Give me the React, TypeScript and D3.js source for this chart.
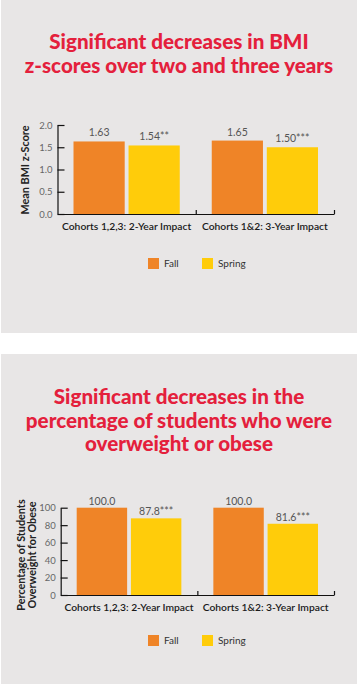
import React, { useEffect, useRef } from 'react'
import * as d3 from 'd3'

const categories = ['Cohorts 1,2,3: 2-Year Impact', 'Cohorts 1&2: 3-Year Impact']
const seriesNames = ['Fall', 'Spring']

const bmiFall = [1.63, 1.65]
const bmiSpring = [1.54, 1.5]
const bmiFallLabels = ['1.63', '1.65']
const bmiSpringLabels = ['1.54**', '1.50***']
const bmiTicks = [0, 0.5, 1.0, 1.5, 2.0]

const pctFall = [100.0, 100.0]
const pctSpring = [87.8, 81.6]
const pctFallLabels = ['100.0', '100.0']
const pctSpringLabels = ['87.8***', '81.6***']
const pctTicks = [0, 20, 40, 60, 80, 100]

const COLORS = { Fall: '#ef8427', Spring: '#ffcc0a' }
const BG = '#e8e6e6'
const RED = '#e4203c'
const FONT = 'Lato, "Open Sans", sans-serif'

interface PanelProps {
  top: number
  height: number
  titleLines: string[]
  titleY: number
  yTitleLines: string[]
  yTitleX: number[]
  yTitleY: number
  axisX: number
  yTop: number
  yBottom: number
  yMax: number
  ticks: number[]
  tickFormat: (d: number) => string
  fall: number[]
  spring: number[]
  fallLabels: string[]
  springLabels: string[]
  labelGap: number
  catY: number
  legendY: number
}

const Panel: React.FC<PanelProps> = (p) => {
  const yAxisRef = useRef<SVGGElement>(null)
  const xAxisRef = useRef<SVGGElement>(null)

  const y = d3.scaleLinear().domain([0, p.yMax]).range([p.yBottom, p.yTop])
  const x0 = d3.scaleBand().domain(categories).range([p.axisX, 334]).padding(0)
  const x1 = d3.scaleBand().domain(seriesNames).range([16, x0.bandwidth() - 16]).paddingInner(0.07)

  useEffect(() => {
    if (!yAxisRef.current || !xAxisRef.current) return
    const ya = d3.select(yAxisRef.current)
    ya.selectAll('*').remove()
    ya.call(d3.axisLeft(y).tickValues(p.ticks).tickFormat(d => p.tickFormat(d as number)).tickSizeInner(-7).tickSizeOuter(0).tickPadding(5))
    ya.select('.domain').attr('stroke', '#111').attr('stroke-width', 1.2)
    ya.selectAll('.tick line').attr('stroke', '#111').attr('stroke-width', 1.2)
    ya.selectAll('.tick text').attr('fill', '#666').style('font-size', '9.5px').style('font-family', FONT)

    const xa = d3.select(xAxisRef.current)
    xa.selectAll('*').remove()
    const edges = d3.axisBottom(d3.scaleLinear().domain([0, 2]).range([p.axisX, 334]))
      .tickValues([1, 2]).tickFormat(() => '').tickSizeInner(-4).tickSizeOuter(0)
    xa.call(edges)
    xa.select('.domain').attr('stroke', '#111').attr('stroke-width', 1.2)
    xa.selectAll('.tick line').attr('stroke', '#111').attr('stroke-width', 1.2)
  })

  const series = [
    { name: 'Fall', values: p.fall, labels: p.fallLabels },
    { name: 'Spring', values: p.spring, labels: p.springLabels }
  ]

  return (
    <g transform={`translate(0,${p.top})`}>
      <rect x={1} y={0} width={356} height={p.height} fill={BG} />
      {p.titleLines.map((t, i) => (
        <text key={i} x={179} y={p.titleY + i * 23.5} textAnchor="middle" fill={RED}
          style={{ fontFamily: FONT, fontWeight: 900, fontSize: '20.6px' }}>{t}</text>
      ))}
      {p.yTitleLines.map((t, i) => (
        <text key={i} transform={`translate(${p.yTitleX[i]},${p.yTitleY}) rotate(-90)`} textAnchor="middle"
          fill="#222" style={{ fontFamily: FONT, fontWeight: 700, fontSize: '10.8px' }}>{t}</text>
      ))}
      {categories.map((c, ci) => (
        <g key={c} transform={`translate(${x0(c)},0)`}>
          {series.map(s => (
            <g key={s.name}>
              <rect x={x1(s.name)} y={y(s.values[ci])} width={x1.bandwidth()}
                height={p.yBottom - y(s.values[ci])} fill={COLORS[s.name as 'Fall' | 'Spring']} />
              <text x={(x1(s.name) || 0) + x1.bandwidth() / 2} y={y(s.values[ci]) - p.labelGap} textAnchor="middle"
                fill="#555" style={{ fontFamily: FONT, fontSize: '10.5px' }}>{s.labels[ci]}</text>
            </g>
          ))}
          <text x={x0.bandwidth() / 2} y={p.catY} textAnchor="middle" fill="#1a1a1a"
            style={{ fontFamily: FONT, fontWeight: 600, fontSize: '10.3px' }}>{c}</text>
        </g>
      ))}
      <g ref={yAxisRef} transform={`translate(${p.axisX},0)`} />
      <g ref={xAxisRef} transform={`translate(0,${p.yBottom})`} />
      {seriesNames.map((s, i) => (
        <g key={s} transform={`translate(${148 + i * 54},${p.legendY})`}>
          <rect x={0} y={-11} width={11} height={11} fill={COLORS[s as 'Fall' | 'Spring']} />
          <text x={16} y={-2} fill="#333" style={{ fontFamily: FONT, fontSize: '10px' }}>{s}</text>
        </g>
      ))}
    </g>
  )
}

export default function App() {
  return (
    <svg width={359} height={687} style={{ position: 'absolute', left: 0, top: 0, background: '#fff' }}>
      <Panel top={0} height={333}
        titleLines={['Significant decreases in BMI', 'z-scores over two and three years']}
        titleY={49}
        yTitleLines={['Mean BMI z-Score']} yTitleX={[29]} yTitleY={170}
        axisX={57.5} yTop={125} yBottom={214} yMax={2}
        ticks={bmiTicks} tickFormat={d => d.toFixed(1)}
        fall={bmiFall} spring={bmiSpring} fallLabels={bmiFallLabels} springLabels={bmiSpringLabels}
        labelGap={5} catY={229.5} legendY={269} />
      <Panel top={354} height={330}
        titleLines={['Significant decreases in the', 'percentage of students who were', 'overweight or obese']}
        titleY={50}
        yTitleLines={['Percentage of Students', 'Overweight for Obese']} yTitleX={[25, 35.5]} yTitleY={201}
        axisX={60.7} yTop={153.7} yBottom={241} yMax={100}
        ticks={pctTicks} tickFormat={d => String(d)}
        fall={pctFall} spring={pctSpring} fallLabels={pctFallLabels} springLabels={pctSpringLabels}
        labelGap={3} catY={257} legendY={292} />
    </svg>
  )
}
